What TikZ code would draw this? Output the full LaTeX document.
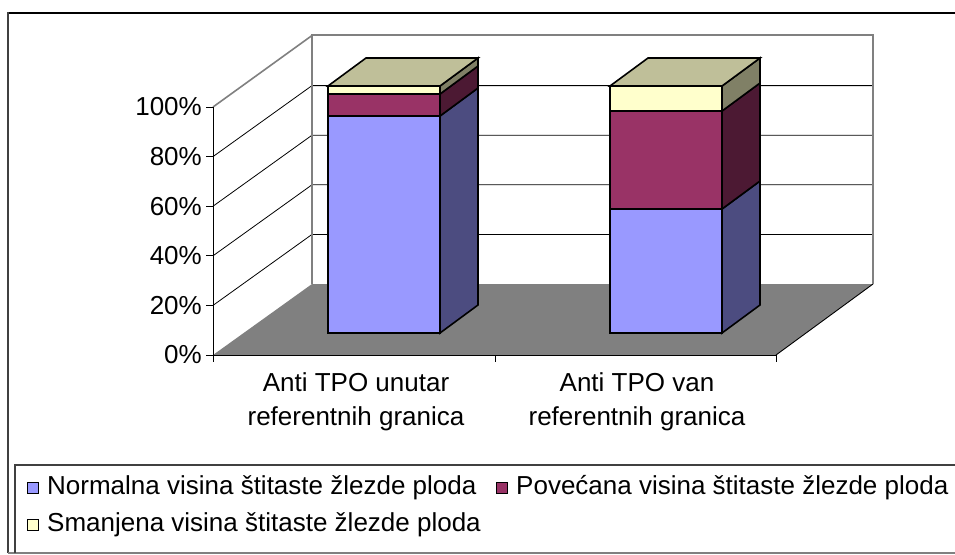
\documentclass[tikz,border=0pt]{standalone}
\usepackage{fontspec}
\setmainfont{Liberation Sans}
\definecolor{cblue}{HTML}{9999FF}
\definecolor{cblueS}{HTML}{4C4C80}
\definecolor{cred}{HTML}{993366}
\definecolor{credS}{HTML}{4C1933}
\definecolor{cyel}{HTML}{FFFFCC}
\definecolor{cyelS}{HTML}{808066}
\definecolor{cyelT}{HTML}{BFBF99}
\definecolor{cfloor}{HTML}{808080}
\definecolor{cframe}{HTML}{404040}
\newcommand\barseg[5]{%
  \filldraw[fill=#4, barline] (#1,#2) rectangle (#1+112,#3);
  \filldraw[fill=#5, barline] (#1+112,#2) -- (#1+150,#2-28) -- (#1+150,#3-28) -- (#1+112,#3) -- cycle;
}
\newcommand\bartop[3]{%
  \filldraw[fill=#3, barline] (#1,#2) -- (#1+38,#2-28) -- (#1+150,#2-28) -- (#1+112,#2) -- cycle;
}
\begin{document}
\begin{tikzpicture}[x=1pt,y=-1pt,line join=miter,
  barline/.style={draw=black,line width=1.6pt},
  grid/.style={draw=black,line width=0.8pt},
  wall/.style={draw=cfloor,line width=1.6pt},
  lbl/.style={font=\fontsize{26}{30}\selectfont,inner sep=0pt},
  legsq/.style={draw=black,line width=0.9pt}]
\useasboundingbox (0,0) rectangle (955,554);
\fill[white] (0,0) rectangle (955,554);
% outer frame
\draw[black,line width=1.5pt] (8,13) -- (956,13);
\draw[cframe,line width=2.5pt] (8,12.3) -- (8,553);
\draw[cfloor,line width=2pt] (8,553) -- (956,553);
% legend box
\draw[cframe,line width=1.2pt] (15,553) -- (15,465) -- (956,465);
% floor
\fill[cfloor] (213,355) -- (312,284) -- (873,284) -- (776,355) -- cycle;
\draw[black,line width=0.9pt] (776,355) -- (873,284);
% gridlines
\foreach \i in {1,2,3,4}{
  \pgfmathsetmacro\yf{355-49.6*\i}
  \draw[grid] (213,\yf) -- (312,\yf-71) -- (873,\yf-71);
}
% walls
\draw[wall] (213,107) -- (312,35.5);
\draw[wall] (312,284) -- (312,35) -- (873,35) -- (873,284);
% axes
\draw[black,line width=1pt] (213,107) -- (213,355) -- (776,355);
\foreach \i in {0,...,5}{
  \pgfmathsetmacro\yt{355-49.6*\i}
  \draw[black,line width=1pt] (206,\yt) -- (213,\yt);
}
\foreach \xx in {213,495,776}{
  \draw[black,line width=1pt] (\xx,355) -- (\xx,362);
}
% bar 1
\barseg{328}{333}{116}{cblue}{cblueS}
\barseg{328}{116}{94}{cred}{credS}
\barseg{328}{94}{86}{cyel}{cyelS}
\bartop{328}{86}{cyelT}
% bar 2
\barseg{610}{333}{209}{cblue}{cblueS}
\barseg{610}{209}{111}{cred}{credS}
\barseg{610}{111}{86}{cyel}{cyelS}
\bartop{610}{86}{cyelT}
% axis labels
\node[lbl,anchor=east] (t0) at (202,355) {0\%};
\node[lbl,anchor=east] (t20) at (202,305.4) {20\%};
\node[lbl,anchor=east] (t40) at (202,255.8) {40\%};
\node[lbl,anchor=east] (t60) at (202,206.2) {60\%};
\node[lbl,anchor=east] (t80) at (202,156.6) {80\%};
\node[lbl,anchor=east] (t100) at (202,107) {100\%};
% category labels
\node[lbl,align=center,font=\fontsize{26}{34}\selectfont] (c1) at (356,402) {Anti TPO unutar\\referentnih granica};
\node[lbl,align=center,font=\fontsize{26}{34}\selectfont] (c2) at (637,402) {Anti TPO van\\referentnih granica};
% legend
\filldraw[legsq,fill=cblue] (27,482) rectangle (38,493);
\node[lbl,anchor=west] (g1) at (47,488) {Normalna visina štitaste žlezde ploda};
\filldraw[legsq,fill=cred] (496,482) rectangle (507,493);
\node[lbl,anchor=west] (g2) at (516,488) {Povećana visina štitaste žlezde ploda};
\filldraw[legsq,fill=cyel] (27,519) rectangle (38,530);
\node[lbl,anchor=west] (g3) at (47,525) {Smanjena visina štitaste žlezde ploda};
\end{tikzpicture}
\end{document}
